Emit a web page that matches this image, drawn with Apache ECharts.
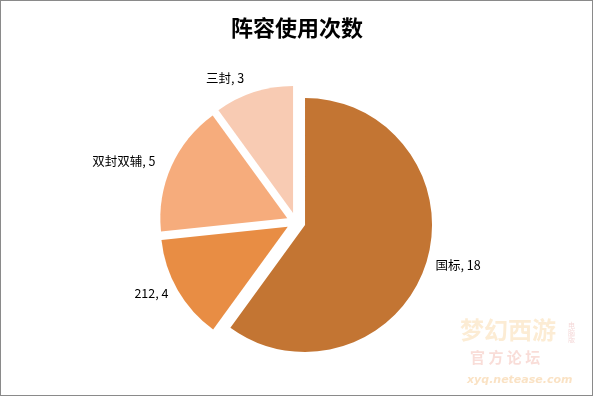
<!DOCTYPE html>
<html>
<head>
<meta charset="utf-8">
<script src="https://cdn.jsdelivr.net/npm/echarts@6/dist/echarts.min.js"></script>
<style>
html,body{margin:0;padding:0;background:#fff;}
#frame{position:absolute;left:0;top:0;width:593px;height:396px;box-sizing:border-box;border:1px solid #8a8a8a;}
#chart{position:absolute;left:0;top:0;width:594px;height:397px;}
</style>
</head>
<body>
<div id="frame"></div>
<div id="chart"></div>
<script>
const titleText = '阵容使用次数';
const categories = ['国标', '212', '双封双辅', '三封'];
const values = [18, 4, 5, 3];
const colors = ['#C37533', '#E88D44', '#F6AC7C', '#F8CBB3'];
const labelGaps = [5, 5, 12, 15];

const chart = echarts.init(document.getElementById('chart'));
chart.setOption({
  animation: false,
  title: {
    text: titleText,
    left: 'center',
    top: 12,
    textStyle: { fontFamily: 'Noto Sans CJK SC', fontSize: 22, fontWeight: 'bold', color: '#000' }
  },
  graphic: [
    { type: 'text', left: 460, top: 318, style: { text: '梦幻西游', fontFamily: 'Noto Sans CJK SC', fontSize: 24, fontWeight: 'bold', fill: 'rgba(240,170,60,0.22)' } },
    { type: 'text', left: 568, top: 322, style: { text: '电\n脑\n版', fontFamily: 'Noto Sans CJK SC', fontSize: 7, fill: 'rgba(220,120,120,0.3)' } },
    { type: 'text', left: 470, top: 350, style: { text: '官 方 论 坛', fontFamily: 'Noto Sans CJK SC', fontSize: 15, fontWeight: 'bold', fill: 'rgba(230,120,100,0.25)' } },
    { type: 'text', left: 467, top: 375, style: { text: 'xyq.netease.com', fontFamily: 'DejaVu Sans', fontSize: 11, fontWeight: 'bold', fontStyle: 'italic', fill: 'rgba(240,160,60,0.3)' } }
  ],
  series: [{
    type: 'pie',
    center: [296, 222],
    radius: [0, 127],
    startAngle: 90,
    clockwise: true,
    selectedMode: 'multiple',
    selectedOffset: 9.5,
    emphasis: { disabled: true },
    label: {
      show: true,
      position: 'outside',
      formatter: '{b}, {c}',
      fontFamily: 'Noto Sans CJK SC',
      fontSize: 12.5,
      color: '#000'
    },
    labelLine: { show: false, length: 8, length2: 0 },
    data: categories.map((c, i) => ({
      name: c, value: values[i], selected: true,
      itemStyle: { color: colors[i] },
      labelLine: { show: false, length: labelGaps[i], length2: 0 }
    }))
  }]
});
</script>
</body>
</html>
